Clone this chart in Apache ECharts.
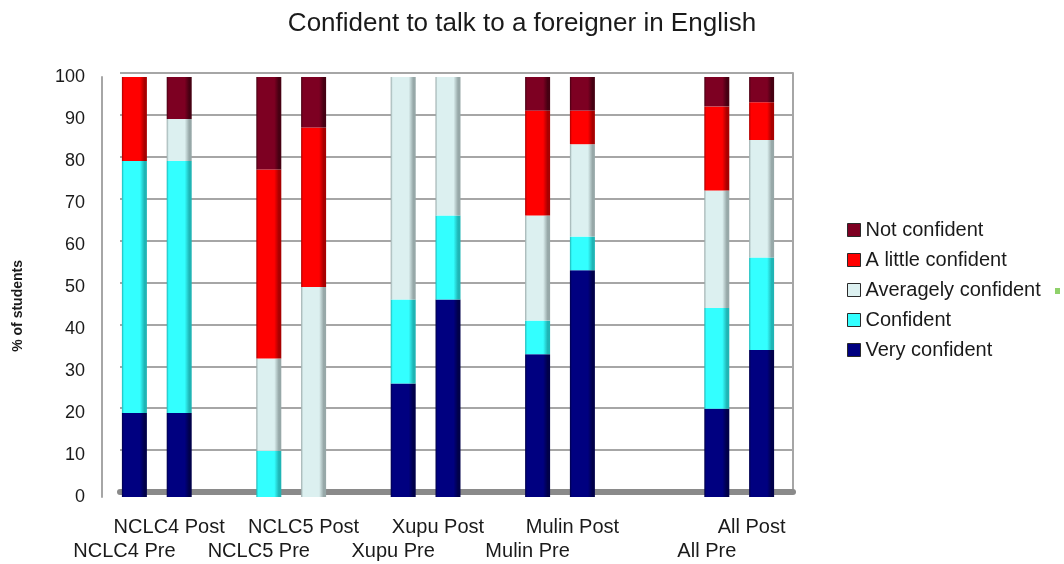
<!DOCTYPE html>
<html>
<head>
<meta charset="utf-8">
<script src="https://cdn.jsdelivr.net/npm/echarts@6/dist/echarts.min.js"></script>
<style>
  html, body { margin: 0; padding: 0; background: #ffffff; }
  #chart { width: 1064px; height: 564px; }
</style>
</head>
<body>
<div id="chart"></div>
<script>
// Groups (blank entries leave gaps between the school pairs)
const categories = ['NCLC4 Pre', 'NCLC4 Post', '', 'NCLC5 Pre', 'NCLC5 Post', '', 'Xupu Pre', 'Xupu Post', '', 'Mulin Pre', 'Mulin Post', '', '', 'All Pre', 'All Post'];

// % of students per confidence level
const veryConfident      = [20, 20, null, 0, 0, null, 27, 47, null, 34, 54, null, null, 21, 35];
const confident          = [60, 60, null, 11, 0, null, 20, 20, null, 8, 8, null, null, 24, 22];
const averagelyConfident = [0, 10, null, 22, 50, null, 53, 33, null, 25, 22, null, null, 28, 28];
const aLittleConfident   = [20, 0, null, 45, 38, null, 0, 0, null, 25, 8, null, null, 20, 9];
const notConfident       = [0, 10, null, 22, 12, null, 0, 0, null, 8, 8, null, null, 7, 6];

const seriesNames = ['Very confident', 'Confident', 'Averagely confident', 'A little confident', 'Not confident'];
const legendOrder = ['Not confident', 'A little confident', 'Averagely confident', 'Confident', 'Very confident'];

const yTicks = { min: 0, max: 100, interval: 10 };

const palette = {
  'Very confident':      ['#000080', '#00004a'],
  'Confident':           ['#33ffff', '#1fb5b5'],
  'Averagely confident': ['#dcf0f0', '#97a8a8'],
  'A little confident':  ['#ff0000', '#a80000'],
  'Not confident':       ['#7d0022', '#460012']
};

// horizontal shading so each column reads as a cylinder
function cylinder(name) {
  const [c, d] = palette[name];
  return {
    type: 'linear', x: 0, y: 0, x2: 1, y2: 0,
    colorStops: [
      { offset: 0, color: d },
      { offset: 0.08, color: c },
      { offset: 0.72, color: c },
      { offset: 0.9, color: d },
      { offset: 1, color: d }
    ]
  };
}

const values = [veryConfident, confident, averagelyConfident, aLittleConfident, notConfident];

const chart = echarts.init(document.getElementById('chart'), null, { renderer: 'canvas' });

const font = 'Liberation Sans, Arial, sans-serif';

chart.setOption({
  backgroundColor: '#ffffff',
  animation: false,
  title: {
    text: 'Confident to talk to a foreigner in English',
    left: 517, top: 6, textAlign: 'center',
    textStyle: { fontFamily: font, fontSize: 26, fontWeight: 'normal', color: '#1a1a1a' }
  },
  legend: {
    orient: 'vertical',
    left: 847, top: 220, padding: 0,
    itemWidth: 13, itemHeight: 13, itemGap: 10,
    icon: 'rect',
    itemStyle: { borderColor: '#2a2a2a', borderWidth: 1 },
    textStyle: { fontFamily: font, fontSize: 20, color: '#1a1a1a', lineHeight: 20 },
    data: legendOrder.map(n => ({ name: n, itemStyle: { color: palette[n][0] } }))
  },
  graphic: [
    { type: 'rect', left: 1055, top: 288, shape: { width: 5, height: 6 }, style: { fill: '#8fd16a' } },
    {
      type: 'text', left: 11, top: 306 - 46,
      rotation: Math.PI / 2, originX: 0, originY: 0,
      style: { text: '% of students', font: 'bold 14px ' + font, fill: '#1a1a1a' }
    }
  ],
  grid: [
    // back wall with grid lines
    { left: 120, right: 271, top: 73, bottom: 72 },
    // columns
    { left: 112, right: 280, top: 77, bottom: 67 }
  ],
  xAxis: [
    {
      gridIndex: 0, type: 'value', min: 0, max: 1, offset: 3,
      axisLine: { show: true, lineStyle: { color: '#8a8a8a', width: 6 } },
      axisTick: { show: false }, axisLabel: { show: false }, splitLine: { show: false }
    },
    {
      gridIndex: 1, type: 'category', data: categories,
      axisLine: { show: false }, axisTick: { show: false },
      axisLabel: {
        interval: 0, margin: 18, padding: [0, 20, 0, 0],
        fontFamily: font, fontSize: 20, color: '#1a1a1a', lineHeight: 24,
        formatter: v => /Pre$/.test(v) ? '\n' + v : v
      }
    }
  ],
  yAxis: [
    {
      gridIndex: 0, type: 'value', min: yTicks.min, max: yTicks.max, interval: yTicks.interval,
      axisLine: { show: false }, axisTick: { show: false }, axisLabel: { show: false },
      splitLine: { show: true, lineStyle: { color: '#a6a6a6', width: 2 } }
    },
    {
      gridIndex: 0, type: 'value', position: 'right', min: yTicks.min, max: yTicks.max, interval: yTicks.interval,
      axisLine: { show: true, lineStyle: { color: '#a6a6a6', width: 2 } },
      axisTick: { show: false }, axisLabel: { show: false }, splitLine: { show: false }
    },
    {
      gridIndex: 1, type: 'value', min: yTicks.min, max: yTicks.max, interval: yTicks.interval, offset: 10,
      axisLine: { show: true, lineStyle: { color: '#a6a6a6', width: 2 } },
      axisTick: { show: false }, splitLine: { show: false },
      axisLabel: { margin: 17, padding: [8, 0, 0, 0], fontFamily: font, fontSize: 18, color: '#1a1a1a' }
    }
  ],
  series: seriesNames.map((name, i) => ({
    name, type: 'bar', stack: 'total',
    xAxisIndex: 1, yAxisIndex: 2,
    barWidth: 25,
    itemStyle: { color: cylinder(name) },
    data: values[i]
  }))
});
</script>
</body>
</html>
